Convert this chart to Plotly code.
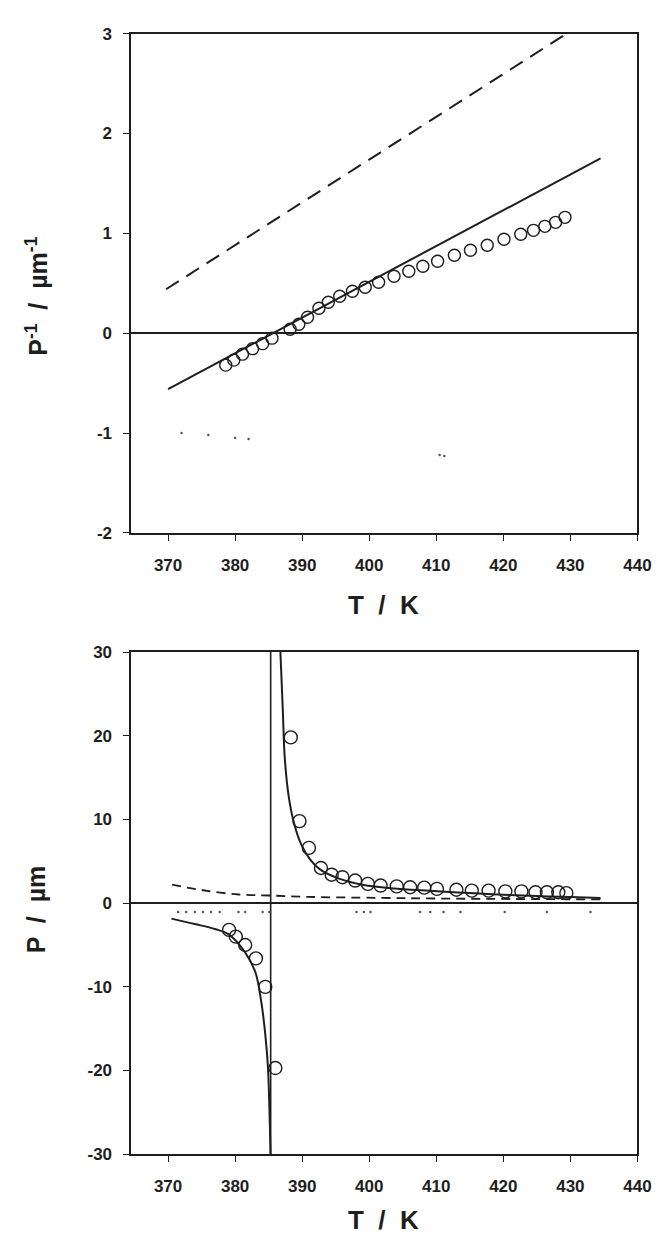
import plotly.graph_objects as go

# ---------------- data ----------------
T_C = 385.3  # vertical asymptote line (bottom panel)

# top panel: inverse pitch
top_T = [378.6, 379.8, 381.1, 382.6, 384.1, 385.5, 388.2, 389.5, 390.8, 392.5,
         393.9, 395.6, 397.5, 399.4, 401.4, 403.7, 405.9, 408.0, 410.2, 412.7,
         415.1, 417.6, 420.1, 422.6, 424.5, 426.2, 427.8, 429.2]
top_inv = [-0.32, -0.27, -0.21, -0.155, -0.105, -0.05, 0.04, 0.09, 0.16, 0.25,
           0.31, 0.37, 0.42, 0.46, 0.51, 0.57, 0.62, 0.67, 0.72, 0.78,
           0.83, 0.88, 0.94, 0.99, 1.03, 1.07, 1.11, 1.16]

top_solid_T = [370.0, 434.5]
top_solid_v = [-0.56, 1.75]
top_dash_T = [369.7, 430.6]
top_dash_v = [0.44, 3.05]

top_dots_T = [372.0, 376.0, 380.0, 382.0, 410.5, 411.2]
top_dots_v = [-1.0, -1.02, -1.05, -1.06, -1.22, -1.23]

# bottom panel: pitch
bot_T = [379.1, 380.1, 381.5, 383.1, 384.5, 386.0,
         388.3, 389.6, 391.0, 392.8, 394.4, 396.0, 397.9, 399.8, 401.7, 404.1,
         406.1, 408.2, 410.1, 413.0, 415.3, 417.8, 420.3, 422.7, 424.8, 426.5,
         428.2, 429.4]
bot_P = [-3.2, -4.0, -5.0, -6.6, -10.0, -19.7,
         19.8, 9.8, 6.6, 4.2, 3.4, 3.1, 2.7, 2.3, 2.1, 2.0,
         1.9, 1.85, 1.7, 1.6, 1.5, 1.5, 1.4, 1.4, 1.3, 1.3,
         1.3, 1.2]

bot_solid_left_T = [370.5, 374.0, 377.0, 379.0, 381.5, 383.0, 383.9, 384.5, 384.9, 385.3]
bot_solid_left_P = [-1.85, -2.5, -3.1, -3.7, -5.9, -8.2, -11.8, -15.7, -19.7, -31.0]
bot_solid_right_T = [386.7, 387.1, 387.4, 388.0, 388.8, 389.8, 391.2, 392.7, 395.6, 399.0,
                     403.8, 410.1, 415.0, 420.0, 425.0, 430.0, 434.5]
bot_solid_right_P = [31.0, 23.3, 17.4, 12.7, 9.5, 7.1, 5.2, 4.0, 2.9, 2.2,
                     1.74, 1.42, 1.2, 1.0, 0.85, 0.72, 0.62]
bot_dash_T = [370.6, 375.2, 380.5, 385.1, 390.8, 401.3, 410.0, 420.0, 434.5]
bot_dash_P = [2.2, 1.54, 1.03, 0.91, 0.75, 0.63, 0.55, 0.5, 0.45]

bot_dots_T = [371.5, 372.7, 374.0, 375.2, 376.4, 377.7, 380.5, 381.5, 384.1, 385.1,
              398.1, 399.2, 400.2, 407.6, 409.1, 411.1, 413.6, 420.2, 426.5, 433.0]
bot_dots_P = [-1.07] * 20

X_RANGE = [364.5, 440]
X_TICKS = [370, 380, 390, 400, 410, 420, 430, 440]
TOP_Y_RANGE = [-2, 3]
TOP_Y_TICKS = [-2, -1, 0, 1, 2, 3]
TOP_Y_LABELS = ["-2", "-1", "0", "1", "2", "3"]
BOT_Y_RANGE = [-30, 30]
BOT_Y_TICKS = [-30, -20, -10, 0, 10, 20, 30]
BOT_Y_LABELS = ["-30", "-20", "-10", "0", "10", "20", "30"]

# ---------------- figure ----------------
INK = "#1e1e1e"
fig = go.Figure()

def add(xax, yax, **kw):
    fig.add_trace(go.Scatter(xaxis=xax, yaxis=yax, showlegend=False,
                             hoverinfo="skip", **kw))

# top
add("x", "y", x=top_dash_T, y=top_dash_v, mode="lines",
    line=dict(color=INK, width=2, dash="15px,9px"))
add("x", "y", x=top_solid_T, y=top_solid_v, mode="lines",
    line=dict(color=INK, width=2))
add("x", "y", x=top_T, y=top_inv, mode="markers",
    marker=dict(symbol="circle-open", size=12, color=INK, line=dict(width=1.4, color=INK)))
add("x", "y", x=top_dots_T, y=top_dots_v, mode="markers",
    marker=dict(symbol="circle", size=2.5, color="#555"))

# bottom
add("x2", "y2", x=[T_C, T_C], y=BOT_Y_RANGE, mode="lines",
    line=dict(color=INK, width=1.6))
add("x2", "y2", x=bot_dash_T, y=bot_dash_P, mode="lines", line_shape="spline",
    line=dict(color=INK, width=1.8, dash="9px,6px"))
add("x2", "y2", x=bot_solid_left_T, y=bot_solid_left_P, mode="lines", line_shape="spline",
    line=dict(color=INK, width=2))
add("x2", "y2", x=bot_solid_right_T, y=bot_solid_right_P, mode="lines", line_shape="spline",
    line=dict(color=INK, width=2))
add("x2", "y2", x=bot_T, y=bot_P, mode="markers",
    marker=dict(symbol="circle-open", size=13, color=INK, line=dict(width=1.4, color=INK)))
add("x2", "y2", x=bot_dots_T, y=bot_dots_P, mode="markers",
    marker=dict(symbol="circle", size=2.5, color="#555"))

W, H = 671, 1244
xdom = [134 / W, 651 / W]
top_dom = [1 - 532 / H, 1 - 25 / H]
bot_dom = [1 - 1163 / H, 1 - 653 / H]

FAM = "Liberation Sans Narrow, Liberation Sans, Arial, sans-serif"
tickfont = dict(family=FAM, size=17, color=INK, weight="bold")
common_x = dict(range=X_RANGE, tickvals=X_TICKS, ticks="outside", ticklen=6, tickwidth=1.2,
                tickcolor=INK, showline=True, linecolor=INK, linewidth=1.5, mirror=True,
                showgrid=False, zeroline=False, tickfont=tickfont, domain=xdom,
                ticklabelstandoff=10)
common_y = dict(ticks="outside", ticklen=6, tickwidth=1.2, tickcolor=INK, showline=True,
                linecolor=INK, linewidth=1.5, mirror=True, showgrid=False,
                zeroline=True, zerolinecolor=INK, zerolinewidth=1.6, tickfont=tickfont,
                ticklabelstandoff=8)

fig.update_layout(
    width=W, height=H, margin=dict(l=0, r=0, t=0, b=0),
    paper_bgcolor="white", plot_bgcolor="white",
    xaxis=dict(anchor="y", **common_x),
    yaxis=dict(anchor="x", domain=top_dom, range=TOP_Y_RANGE, tickvals=TOP_Y_TICKS,
               ticktext=TOP_Y_LABELS, **common_y),
    xaxis2=dict(anchor="y2", **common_x),
    yaxis2=dict(anchor="x2", domain=bot_dom, range=BOT_Y_RANGE, tickvals=BOT_Y_TICKS,
                ticktext=BOT_Y_LABELS, **common_y),
)

titlefont = dict(family="Liberation Sans, Arial, sans-serif", size=25, color=INK, weight="bold")
ann = dict(xref="paper", yref="paper", showarrow=False, xanchor="center", yanchor="middle")
fig.add_annotation(text="P<sup>-1</sup>  /  µm<sup>-1</sup>", x=37 / W, y=1 - 292 / H,
                   textangle=-90, font=titlefont, **ann)
fig.add_annotation(text="T  /  K", x=392 / W, y=1 - 605 / H,
                   font=dict(titlefont, size=26), **ann)
fig.add_annotation(text="P  /  µm", x=37 / W, y=1 - 914 / H,
                   textangle=-90, font=titlefont, **ann)
fig.add_annotation(text="T  /  K", x=392 / W, y=1 - 1230 / H,
                   font=dict(titlefont, size=26), **ann)

fig.write_html("out.html")
